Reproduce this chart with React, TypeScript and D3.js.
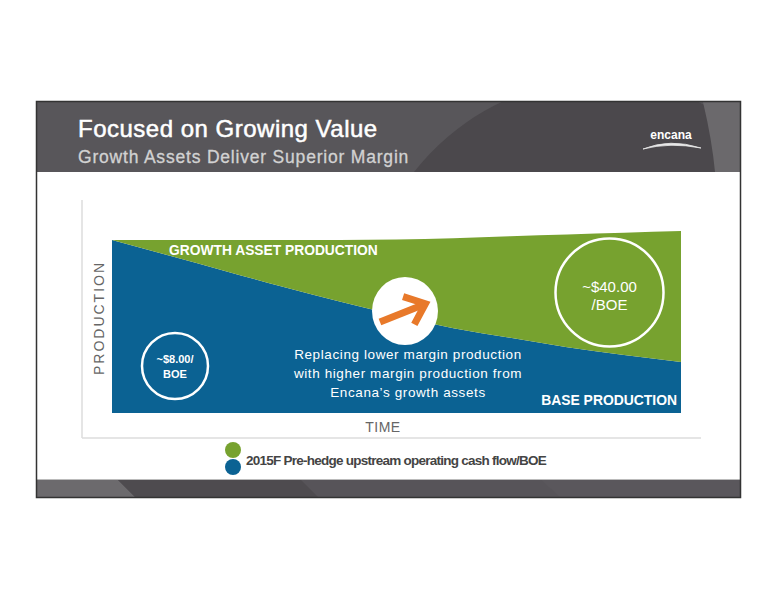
import React from "react";
import * as d3 from "d3";

const timeSteps = [0, 1, 2, 3, 4, 5, 6, 7, 8, 9, 10];
const baseProduction = [100, 91, 82, 73, 64.5, 56.5, 49, 43.5, 38, 33.5, 29.5];
const totalProduction = [100, 100, 100, 100, 100, 100.3, 101, 102.2, 103.2, 104.2, 105.2];
const centerLines = [
  "Replacing lower margin production",
  "with higher margin production from",
  "Encana\u2019s growth assets",
];
const legendLabel = "2015F Pre-hedge upstream operating cash flow/BOE";
const legendColors = ["#77a22f", "#0b6293"];

const GREEN = "#77a22f";
const BLUE = "#0b6293";
const FONT = "'Liberation Sans', Arial, sans-serif";

export default function App() {
  const x = d3.scaleLinear().domain([0, 10]).range([112, 681]);
  const y = d3.scaleLinear().domain([0, 100]).range([413, 240]);

  const rows = timeSteps.map((t, i) => ({ t, base: baseProduction[i], total: totalProduction[i] }));

  const baseArea = d3
    .area<any>()
    .x((d) => x(d.t))
    .y0(() => y(0))
    .y1((d) => y(d.base))
    .curve(d3.curveMonotoneX);
  const growthArea = d3
    .area<any>()
    .x((d) => x(d.t))
    .y0((d) => y(d.base))
    .y1((d) => y(d.total))
    .curve(d3.curveMonotoneX);

  return (
    <svg width={776} height={600} style={{ position: "absolute", left: 0, top: 0 }}>
      <rect x={0} y={0} width={776} height={600} fill="#fff" />
      <defs>
        <clipPath id="hdr">
          <rect x={37} y={102} width={703} height={70} />
        </clipPath>
        <clipPath id="ftr">
          <rect x={37} y={479} width={703} height={18} />
        </clipPath>
      </defs>

      {/* header */}
      <g clipPath="url(#hdr)">
        <rect x={37} y={102} width={703} height={70} fill="#58565a" />
        <ellipse cx={600} cy={330} rx={240} ry={250} fill="#4b484c" />
        <path d="M703,102 Q712,140 715,172 L740,172 L740,102 Z" fill="#6b696c" />
      </g>
      <text x={78} y={137} fill="#fff" stroke="#fff" strokeWidth={0.5} fontFamily={FONT} fontSize={24} letterSpacing={0.5}>
        Focused on Growing Value
      </text>
      <text x={78} y={163} fill="#d2d2d2" stroke="#d2d2d2" strokeWidth={0.3} fontFamily={FONT} fontSize={17.5} letterSpacing={0.8}>
        Growth Assets Deliver Superior Margin
      </text>
      <text x={671} y={139} fill="#fff" fontFamily={FONT} fontWeight="bold" fontSize={12} textAnchor="middle">
        encana
      </text>
      <path d="M643,149 Q670,138 701,148 Q670,142 643,149 Z" fill="#e8e8e8" stroke="#e8e8e8" strokeWidth={0.8} />

      {/* footer */}
      <g clipPath="url(#ftr)">
        <rect x={37} y={479} width={703} height={18} fill="#575459" />
        <path d="M37,479 L117,479 L135,497 L37,497 Z" fill="#6c6a6d" />
        <path d="M117,479 L300,479 L318,497 L135,497 Z" fill="#4e4b4f" />
        <path d="M540,479 L740,479 L740,497 L560,497 Z" fill="#5a575c" />
      </g>
      <line x1={37} y1={479.5} x2={740} y2={479.5} stroke="#bbb" strokeWidth={1} />

      {/* frame */}
      <rect x={36.5} y={101.5} width={704} height={396} fill="none" stroke="#333" strokeWidth={1.5} />

      {/* axes */}
      <line x1={82} y1={200} x2={82} y2={438} stroke="#dcdcdc" strokeWidth={1.5} />
      <line x1={82} y1={438} x2={701} y2={438} stroke="#dcdcdc" strokeWidth={1.5} />

      {/* areas */}
      <path d={baseArea(rows) || ""} fill={BLUE} />
      <path d={growthArea(rows) || ""} fill={GREEN} />

      {/* labels in chart */}
      <text x={169} y={254.5} fill="#fff" fontFamily={FONT} fontWeight="bold" fontSize={13.8}>
        GROWTH ASSET PRODUCTION
      </text>
      <text x={677} y={405} fill="#fff" fontFamily={FONT} fontWeight="bold" fontSize={13.9} textAnchor="end">
        BASE PRODUCTION
      </text>
      <text
        transform="translate(104,318) rotate(-90)"
        fill="#666"
        fontFamily={FONT}
        fontSize={14}
        letterSpacing={2}
        textAnchor="middle"
      >
        PRODUCTION
      </text>
      <text x={383} y={432} fill="#666" fontFamily={FONT} fontSize={14} letterSpacing={0.5} textAnchor="middle">
        TIME
      </text>

      {/* $40 circle */}
      <circle cx={609.5} cy={292.5} r={54} fill="none" stroke="#fff" strokeWidth={2.5} />
      <text x={609.5} y={292} fill="#fff" fontFamily={FONT} fontSize={15} textAnchor="middle">
        ~$40.00
      </text>
      <text x={609.5} y={310} fill="#fff" fontFamily={FONT} fontSize={15} textAnchor="middle">
        /BOE
      </text>

      {/* $8 circle */}
      <circle cx={175} cy={366} r={33} fill="none" stroke="#fff" strokeWidth={2.5} />
      <text x={175} y={363} fill="#fff" fontFamily={FONT} fontWeight="bold" fontSize={11} textAnchor="middle">
        ~$8.00/
      </text>
      <text x={175} y={378} fill="#fff" fontFamily={FONT} fontWeight="bold" fontSize={11} textAnchor="middle">
        BOE
      </text>

      {/* arrow badge */}
      <ellipse cx={405} cy={311} rx={33} ry={34} fill="#fff" />
      <g transform="translate(405,312) rotate(-22)" stroke="#e8792a" strokeWidth={7} fill="none">
        <line x1={-27} y1={0} x2={19} y2={0} />
        <polyline points="4,-15 22,0 4,15" strokeLinejoin="miter" />
      </g>

      {/* center text */}
      {centerLines.map((s, i) => (
        <text
          key={i}
          x={408}
          y={359 + i * 19}
          fill="#fff"
          fontFamily={FONT}
          fontSize={13.5}
          letterSpacing={0.6}
          textAnchor="middle"
        >
          {s}
        </text>
      ))}

      {/* legend */}
      <circle cx={233} cy={450} r={8} fill={legendColors[0]} />
      <circle cx={233} cy={467} r={8} fill={legendColors[1]} />
      <text x={246} y={465} fill="#444" fontFamily={FONT} fontWeight="bold" fontSize={13.5} letterSpacing={-0.75}>
        {legendLabel}
      </text>
    </svg>
  );
}
